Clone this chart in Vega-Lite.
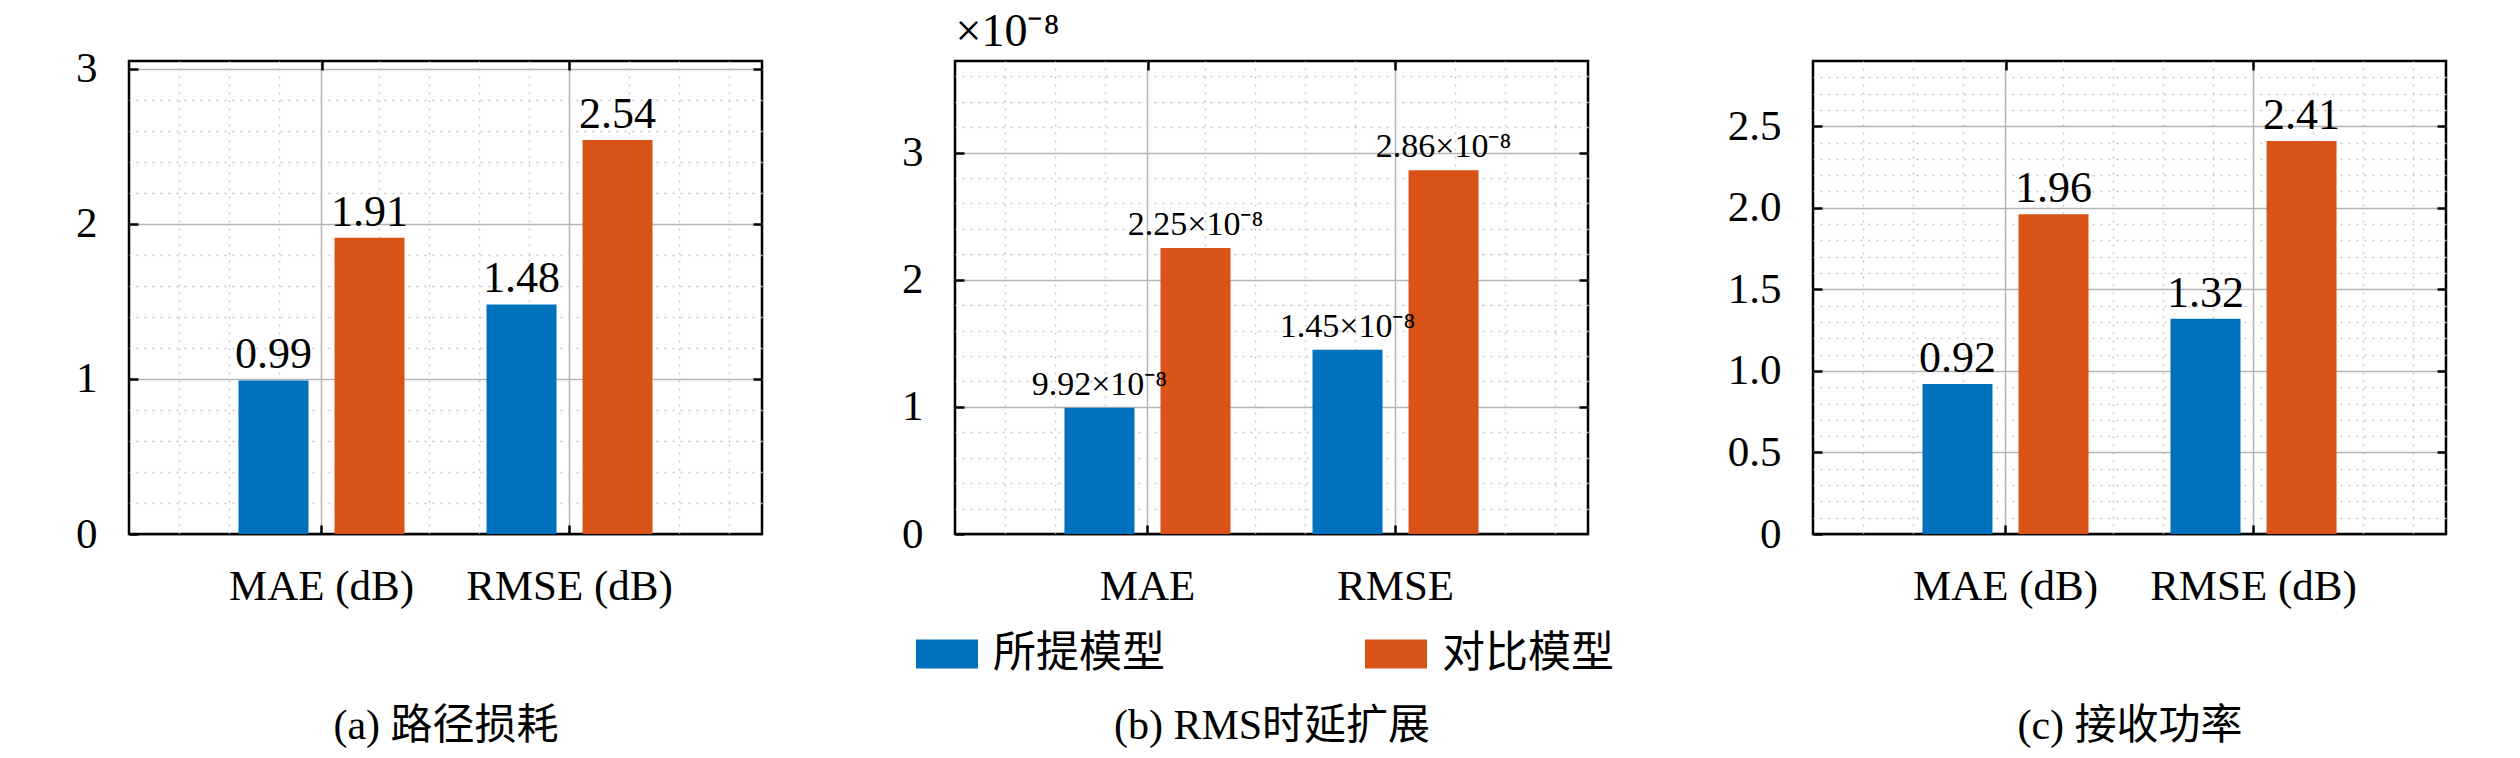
{
  "$schema": "https://vega.github.io/schema/vega-lite/v6.json",
  "background": "white",
  "padding": {"left": 74, "top": 6, "right": 5, "bottom": 5},
  "spacing": 135,
  "resolve": {"scale": {"color": "shared"}, "legend": {"color": "shared"}},
  "config": {
    "font": "Liberation Serif, Noto Sans CJK SC",
    "view": {"stroke": "black", "strokeWidth": 2.5},
    "axis": {
      "labelFontSize": 43,
      "labelColor": "black",
      "labelLimit": 0,
      "titleFontSize": 42,
      "titleFontWeight": "normal",
      "titleColor": "black",
      "domain": false,
      "tickColor": "black",
      "tickWidth": 2.5,
      "tickSize": -9,
      "gridColor": "#b4b4b4",
      "gridWidth": 1.5
    },
    "text": {"font": "Liberation Serif, Noto Sans CJK SC", "color": "black"}
  },
  "hconcat": [
    {
      "width": 633,
      "height": 473,
      "data": {"values": [
        {"metric": "MAE (dB)", "model": "所提模型", "value": 0.99},
        {"metric": "MAE (dB)", "model": "对比模型", "value": 1.91},
        {"metric": "RMSE (dB)", "model": "所提模型", "value": 1.48},
        {"metric": "RMSE (dB)", "model": "对比模型", "value": 2.54}
      ]},
      "resolve": {"scale": {"x": "independent", "y": "independent"}},
      "layer": [
        {
          "mark": {"type": "point", "opacity": 0},
          "encoding": {
            "x": {"datum": 0, "type": "quantitative", "scale": {"domain": [0, 633], "nice": false, "zero": false},
              "axis": {"orient": "top", "values": [50, 100, 150, 250, 300, 350, 400, 500, 550, 600], "grid": true, "gridDash": [2, 6], "gridColor": "#c8c8c8", "labels": false, "ticks": false, "domain": false, "title": null}},
            "y": {"datum": 0, "type": "quantitative", "scale": {"domain": [0, 3.05], "nice": false},
              "axis": {"orient": "right", "values": [0.2, 0.4, 0.6, 0.8, 1.2, 1.4, 1.6, 1.8, 2.2, 2.4, 2.6, 2.8], "grid": true, "gridDash": [2, 6], "gridColor": "#c8c8c8", "labels": false, "ticks": false, "domain": false, "title": null}}
          }
        },
        {
          "mark": {"type": "point", "opacity": 0},
          "encoding": {
            "x": {"datum": 0, "type": "quantitative", "scale": {"domain": [0, 633], "nice": false, "zero": false},
              "axis": {"orient": "top", "values": [192.5, 440.5], "grid": false, "labels": false, "ticks": true, "domain": false, "title": null}},
            "y": {"datum": 0, "type": "quantitative", "scale": {"domain": [0, 3.05], "nice": false},
              "axis": {"orient": "right", "values": [1, 2, 3], "grid": false, "labels": false, "ticks": true, "domain": false, "title": null}}
          }
        },
        {
          "encoding": {
            "x": {"field": "metric", "type": "nominal", "sort": null,
              "scale": {"paddingInner": 0, "paddingOuter": 0.276},
              "axis": {"orient": "bottom", "labelAngle": 0, "bandPosition": 0.5, "grid": true, "labelPadding": 40,
                "title": "(a) 路径损耗", "titleY": 191, "titleBaseline": "middle"}},
            "xOffset": {"field": "model", "type": "nominal", "sort": ["所提模型", "对比模型"],
              "scale": {"paddingInner": 0.271, "paddingOuter": 0.427}},
            "y": {"field": "value", "type": "quantitative", "scale": {"domain": [0, 3.05], "nice": false},
              "axis": {"orient": "left", "values": [0, 1, 2, 3], "grid": true, "labelPadding": 41, "title": null,
                "gridColor": {"condition": {"test": "datum.value === 0", "value": "black"}, "value": "#b4b4b4"}}}
          },
          "layer": [
            {
              "mark": {"type": "bar"},
              "encoding": {
                "color": {"field": "model", "type": "nominal",
                  "scale": {"domain": ["所提模型", "对比模型"], "range": ["#0072BD", "#D95319"]},
                  "legend": {"title": null, "orient": "none", "legendX": 787, "legendY": 562, "direction": "horizontal",
                    "symbolType": "M-1,-0.468L1,-0.468L1,0.468L-1,0.468Z", "symbolSize": 3844, "symbolStrokeWidth": 0,
                    "symbolOpacity": 1, "labelFontSize": 43, "labelLimit": 0, "labelOffset": 15, "columnPadding": 200, "padding": 0,
                    "labelColor": "black"}}
              }
            },
            {
              "mark": {"type": "text", "baseline": "alphabetic", "dy": -12, "fontSize": 44},
              "encoding": {"text": {"field": "value", "type": "quantitative", "format": ".2f"}}
            }
          ]
        }
      ]
    },
    {
      "width": 633,
      "height": 473,
      "data": {"values": [
        {"metric": "MAE", "model": "所提模型", "value": 0.992, "label": "9.92×10⁻⁸"},
        {"metric": "MAE", "model": "对比模型", "value": 2.25, "label": "2.25×10⁻⁸"},
        {"metric": "RMSE", "model": "所提模型", "value": 1.45, "label": "1.45×10⁻⁸"},
        {"metric": "RMSE", "model": "对比模型", "value": 2.86, "label": "2.86×10⁻⁸"}
      ]},
      "resolve": {"scale": {"x": "independent", "y": "independent"}},
      "layer": [
        {
          "mark": {"type": "point", "opacity": 0},
          "encoding": {
            "x": {"datum": 0, "type": "quantitative", "scale": {"domain": [0, 633], "nice": false, "zero": false},
              "axis": {"orient": "top", "values": [50, 100, 150, 250, 300, 350, 400, 500, 550, 600], "grid": true, "gridDash": [2, 6], "gridColor": "#c8c8c8", "labels": false, "ticks": false, "domain": false, "title": null}},
            "y": {"datum": 0, "type": "quantitative", "scale": {"domain": [0, 3.72], "nice": false},
              "axis": {"orient": "right", "values": [0.2, 0.4, 0.6, 0.8, 1.2, 1.4, 1.6, 1.8, 2.2, 2.4, 2.6, 2.8, 3.2, 3.4, 3.6], "grid": true, "gridDash": [2, 6], "gridColor": "#c8c8c8", "labels": false, "ticks": false, "domain": false, "title": null}}
          }
        },
        {
          "mark": {"type": "point", "opacity": 0},
          "encoding": {
            "x": {"datum": 0, "type": "quantitative", "scale": {"domain": [0, 633], "nice": false, "zero": false},
              "axis": {"orient": "top", "values": [192.5, 440.5], "grid": false, "labels": false, "ticks": true, "domain": false, "title": null}},
            "y": {"datum": 0, "type": "quantitative", "scale": {"domain": [0, 3.72], "nice": false},
              "axis": {"orient": "right", "values": [1, 2, 3], "grid": false, "labels": false, "ticks": true, "domain": false, "title": null}}
          }
        },
        {
          "encoding": {
            "x": {"field": "metric", "type": "nominal", "sort": null,
              "scale": {"paddingInner": 0, "paddingOuter": 0.276},
              "axis": {"orient": "bottom", "labelAngle": 0, "bandPosition": 0.5, "grid": true, "labelPadding": 40,
                "title": "(b) RMS时延扩展", "titleY": 191, "titleBaseline": "middle"}},
            "xOffset": {"field": "model", "type": "nominal", "sort": ["所提模型", "对比模型"],
              "scale": {"paddingInner": 0.271, "paddingOuter": 0.427}},
            "y": {"field": "value", "type": "quantitative", "scale": {"domain": [0, 3.72], "nice": false},
              "axis": {"orient": "left", "values": [0, 1, 2, 3], "grid": true, "labelPadding": 41,
                "gridColor": {"condition": {"test": "datum.value === 0", "value": "black"}, "value": "#b4b4b4"},
                "title": "×10⁻⁸", "titleAngle": 0, "titleX": 0, "titleY": -16, "titleAlign": "left",
                "titleBaseline": "alphabetic", "titleFontSize": 46}}
          },
          "layer": [
            {
              "mark": {"type": "bar"},
              "encoding": {
                "color": {"field": "model", "type": "nominal",
                  "scale": {"domain": ["所提模型", "对比模型"], "range": ["#0072BD", "#D95319"]},
                  "legend": {"title": null, "orient": "none", "legendX": 787, "legendY": 562, "direction": "horizontal",
                    "symbolType": "M-1,-0.468L1,-0.468L1,0.468L-1,0.468Z", "symbolSize": 3844, "symbolStrokeWidth": 0,
                    "symbolOpacity": 1, "labelFontSize": 43, "labelLimit": 0, "labelOffset": 15, "columnPadding": 200, "padding": 0,
                    "labelColor": "black"}}
              }
            },
            {
              "mark": {"type": "text", "baseline": "alphabetic", "dy": -13, "fontSize": 34},
              "encoding": {"text": {"field": "label", "type": "nominal"}}
            }
          ]
        }
      ]
    },
    {
      "width": 633,
      "height": 473,
      "data": {"values": [
        {"metric": "MAE (dB)", "model": "所提模型", "value": 0.92},
        {"metric": "MAE (dB)", "model": "对比模型", "value": 1.96},
        {"metric": "RMSE (dB)", "model": "所提模型", "value": 1.32},
        {"metric": "RMSE (dB)", "model": "对比模型", "value": 2.41}
      ]},
      "resolve": {"scale": {"x": "independent", "y": "independent"}},
      "layer": [
        {
          "mark": {"type": "point", "opacity": 0},
          "encoding": {
            "x": {"datum": 0, "type": "quantitative", "scale": {"domain": [0, 633], "nice": false, "zero": false},
              "axis": {"orient": "top", "values": [50, 100, 150, 250, 300, 350, 400, 500, 550, 600], "grid": true, "gridDash": [2, 6], "gridColor": "#c8c8c8", "labels": false, "ticks": false, "domain": false, "title": null}},
            "y": {"datum": 0, "type": "quantitative", "scale": {"domain": [0, 2.9], "nice": false},
              "axis": {"orient": "right", "values": [0.1, 0.2, 0.3, 0.4, 0.6, 0.7, 0.8, 0.9, 1.1, 1.2, 1.3, 1.4, 1.6, 1.7, 1.8, 1.9, 2.1, 2.2, 2.3, 2.4, 2.6, 2.7, 2.8], "grid": true, "gridDash": [2, 6], "gridColor": "#c8c8c8", "labels": false, "ticks": false, "domain": false, "title": null}}
          }
        },
        {
          "mark": {"type": "point", "opacity": 0},
          "encoding": {
            "x": {"datum": 0, "type": "quantitative", "scale": {"domain": [0, 633], "nice": false, "zero": false},
              "axis": {"orient": "top", "values": [192.5, 440.5], "grid": false, "labels": false, "ticks": true, "domain": false, "title": null}},
            "y": {"datum": 0, "type": "quantitative", "scale": {"domain": [0, 2.9], "nice": false},
              "axis": {"orient": "right", "values": [0.5, 1, 1.5, 2, 2.5], "grid": false, "labels": false, "ticks": true, "domain": false, "title": null}}
          }
        },
        {
          "encoding": {
            "x": {"field": "metric", "type": "nominal", "sort": null,
              "scale": {"paddingInner": 0, "paddingOuter": 0.276},
              "axis": {"orient": "bottom", "labelAngle": 0, "bandPosition": 0.5, "grid": true, "labelPadding": 40,
                "title": "(c) 接收功率", "titleY": 191, "titleBaseline": "middle"}},
            "xOffset": {"field": "model", "type": "nominal", "sort": ["所提模型", "对比模型"],
              "scale": {"paddingInner": 0.271, "paddingOuter": 0.427}},
            "y": {"field": "value", "type": "quantitative", "scale": {"domain": [0, 2.9], "nice": false},
              "axis": {"orient": "left", "values": [0, 0.5, 1, 1.5, 2, 2.5], "grid": true, "labelPadding": 41, "title": null,
                "labelExpr": "datum.value === 0 ? '0' : format(datum.value, '.1f')",
                "gridColor": {"condition": {"test": "datum.value === 0", "value": "black"}, "value": "#b4b4b4"}}}
          },
          "layer": [
            {
              "mark": {"type": "bar"},
              "encoding": {
                "color": {"field": "model", "type": "nominal",
                  "scale": {"domain": ["所提模型", "对比模型"], "range": ["#0072BD", "#D95319"]},
                  "legend": {"title": null, "orient": "none", "legendX": 787, "legendY": 562, "direction": "horizontal",
                    "symbolType": "M-1,-0.468L1,-0.468L1,0.468L-1,0.468Z", "symbolSize": 3844, "symbolStrokeWidth": 0,
                    "symbolOpacity": 1, "labelFontSize": 43, "labelLimit": 0, "labelOffset": 15, "columnPadding": 200, "padding": 0,
                    "labelColor": "black"}}
              }
            },
            {
              "mark": {"type": "text", "baseline": "alphabetic", "dy": -12, "fontSize": 44},
              "encoding": {"text": {"field": "value", "type": "quantitative", "format": ".2f"}}
            }
          ]
        }
      ]
    }
  ]
}
